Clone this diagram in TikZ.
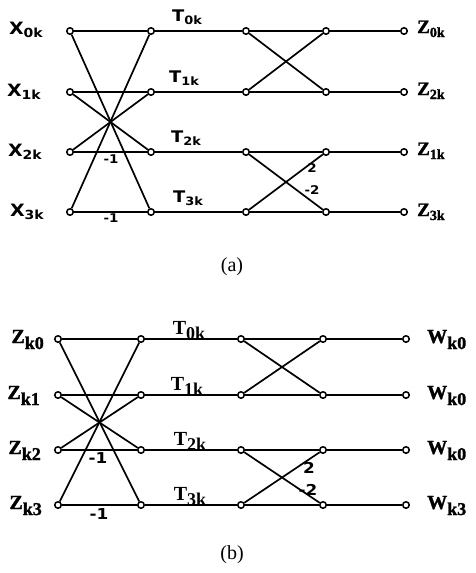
\documentclass[tikz,border=0pt]{standalone}
\usepackage{fontspec}
\setmainfont{Liberation Serif}
\newfontfamily\lsans{DejaVu Sans}[FakeStretch=1.12]
\newfontfamily\bserif{Liberation Serif}[UprightFont={* Bold},FakeBold=1.5]
\newfontfamily\tserif{Liberation Serif}[UprightFont={* Bold}]
\newcommand{\sublab}[5]{{\fontsize{#3}{#3}\selectfont #1\raisebox{#5}{\fontsize{#4}{#4}\selectfont #2}}}
\tikzset{
  pt/.style={circle,draw,fill=white,line width=1.5pt,inner sep=0pt,minimum size=6.5pt},
  wire/.style={line width=1.7pt},
  sflab/.style={font=\lsans\bfseries,inner sep=0pt},
  rmlab/.style={font=\bserif,inner sep=0pt},
  tlab/.style={font=\tserif,inner sep=0pt},
  wa/.style={inner sep=0pt,font=\lsans\bfseries\fontsize{12}{12}\selectfont},
  wb/.style={inner sep=0pt,font=\lsans\bfseries\fontsize{15}{15}\selectfont},
  caplab/.style={font=\rmfamily\fontsize{20}{20}\selectfont,inner sep=0pt}
}
\begin{document}
\begin{tikzpicture}[x=1pt,y=-1pt]
\useasboundingbox (0,0) rectangle (475,573);
% ---------- (a) ----------
\foreach \x [count=\c] in {70,151,246,326,404}
  \foreach \y [count=\r from 0] in {31,92,152,212}
    \node[pt] (a\c\r) at (\x,\y) {};
\foreach \r in {0,1,2,3} {
  \draw[wire] (a1\r) -- (a2\r) -- (a3\r) -- (a4\r) -- (a5\r);
}
\draw[wire] (a10) -- (a23);
\draw[wire] (a13) -- (a20);
\draw[wire] (a11) -- (a22);
\draw[wire] (a12) -- (a21);
\draw[wire] (a30) -- (a41);
\draw[wire] (a31) -- (a40);
\draw[wire] (a32) -- (a43);
\draw[wire] (a33) -- (a42);
% input labels
\node[sflab,anchor=base east] (xa0) at (43,34) {\sublab{X}{0k}{17}{12.5}{-3.5pt}};
\node[sflab,anchor=base east] (xa1) at (41,96) {\sublab{X}{1k}{17}{12.5}{-3.5pt}};
\node[sflab,anchor=base east] (xa2) at (42,156) {\sublab{X}{2k}{17}{12.5}{-3.5pt}};
\node[sflab,anchor=base east] (xa3) at (44,216) {\sublab{X}{3k}{17}{12.5}{-3.5pt}};
% T labels
\node[sflab,anchor=south] (ta0) at (187,25) {\sublab{T}{0k}{16}{11.5}{-3pt}};
\node[sflab,anchor=south] (ta1) at (184,86) {\sublab{T}{1k}{16}{11.5}{-3pt}};
\node[sflab,anchor=south] (ta2) at (186,146) {\sublab{T}{2k}{16}{11.5}{-3pt}};
\node[sflab,anchor=south] (ta3) at (188,206) {\sublab{T}{3k}{16}{11.5}{-3pt}};
% weights
\node[wa] (ma1) at (111,159) {-1};
\node[wa] (ma2) at (111,218) {-1};
\node[wa] (wa1) at (312,168) {2};
\node[wa] (wa2) at (312,190) {-2};
% output labels
\node[rmlab,anchor=base west] (za0) at (417,33) {\sublab{Z}{0k}{19}{14}{-4pt}};
\node[rmlab,anchor=base west] (za1) at (417,95) {\sublab{Z}{2k}{19}{14}{-4pt}};
\node[rmlab,anchor=base west] (za2) at (417,155) {\sublab{Z}{1k}{19}{14}{-4pt}};
\node[rmlab,anchor=base west] (za3) at (417,216) {\sublab{Z}{3k}{19}{14}{-4pt}};
\node[caplab] (capa) at (232,267) {(a)};
% ---------- (b) ----------
\foreach \x [count=\c] in {58,141,241,323,406}
  \foreach \y [count=\r from 0] in {339,395,450,505}
    \node[pt] (b\c\r) at (\x,\y) {};
\foreach \r in {0,1,2,3} {
  \draw[wire] (b1\r) -- (b2\r) -- (b3\r) -- (b4\r) -- (b5\r);
}
\draw[wire] (b10) -- (b23);
\draw[wire] (b13) -- (b20);
\draw[wire] (b11) -- (b22);
\draw[wire] (b12) -- (b21);
\draw[wire] (b30) -- (b41);
\draw[wire] (b31) -- (b40);
\draw[wire] (b32) -- (b43);
\draw[wire] (b33) -- (b42);
\node[rmlab,anchor=base east] (zb0) at (44,343) {\sublab{Z}{k0}{20}{18}{-6pt}};
\node[rmlab,anchor=base east] (zb1) at (40,399) {\sublab{Z}{k1}{20}{18}{-6pt}};
\node[rmlab,anchor=base east] (zb2) at (41,454) {\sublab{Z}{k2}{20}{18}{-6pt}};
\node[rmlab,anchor=base east] (zb3) at (42,509) {\sublab{Z}{k3}{20}{18}{-6pt}};
\node[tlab,anchor=south] (tb0) at (189,340) {\sublab{T}{0k}{20}{18}{-5pt}};
\node[tlab,anchor=south] (tb1) at (187,396) {\sublab{T}{1k}{20}{18}{-5pt}};
\node[tlab,anchor=south] (tb2) at (190,451) {\sublab{T}{2k}{20}{18}{-5pt}};
\node[tlab,anchor=south] (tb3) at (190,506) {\sublab{T}{3k}{20}{18}{-5pt}};
\node[wb] (mb1) at (98,458) {-1};
\node[wb] (mb2) at (99,514) {-1};
\node[wb] (wb1) at (309,468) {2};
\node[wb] (wb2) at (308,490) {-2};
\node[rmlab,anchor=base west] (wo0) at (427,343) {\sublab{W}{k0}{20}{18}{-6pt}};
\node[rmlab,anchor=base west] (wo1) at (427,399) {\sublab{W}{k0}{20}{18}{-6pt}};
\node[rmlab,anchor=base west] (wo2) at (427,454) {\sublab{W}{k0}{20}{18}{-6pt}};
\node[rmlab,anchor=base west] (wo3) at (427,509) {\sublab{W}{k3}{20}{18}{-6pt}};
\node[caplab] (capb) at (232,555) {(b)};
\end{tikzpicture}
\end{document}
